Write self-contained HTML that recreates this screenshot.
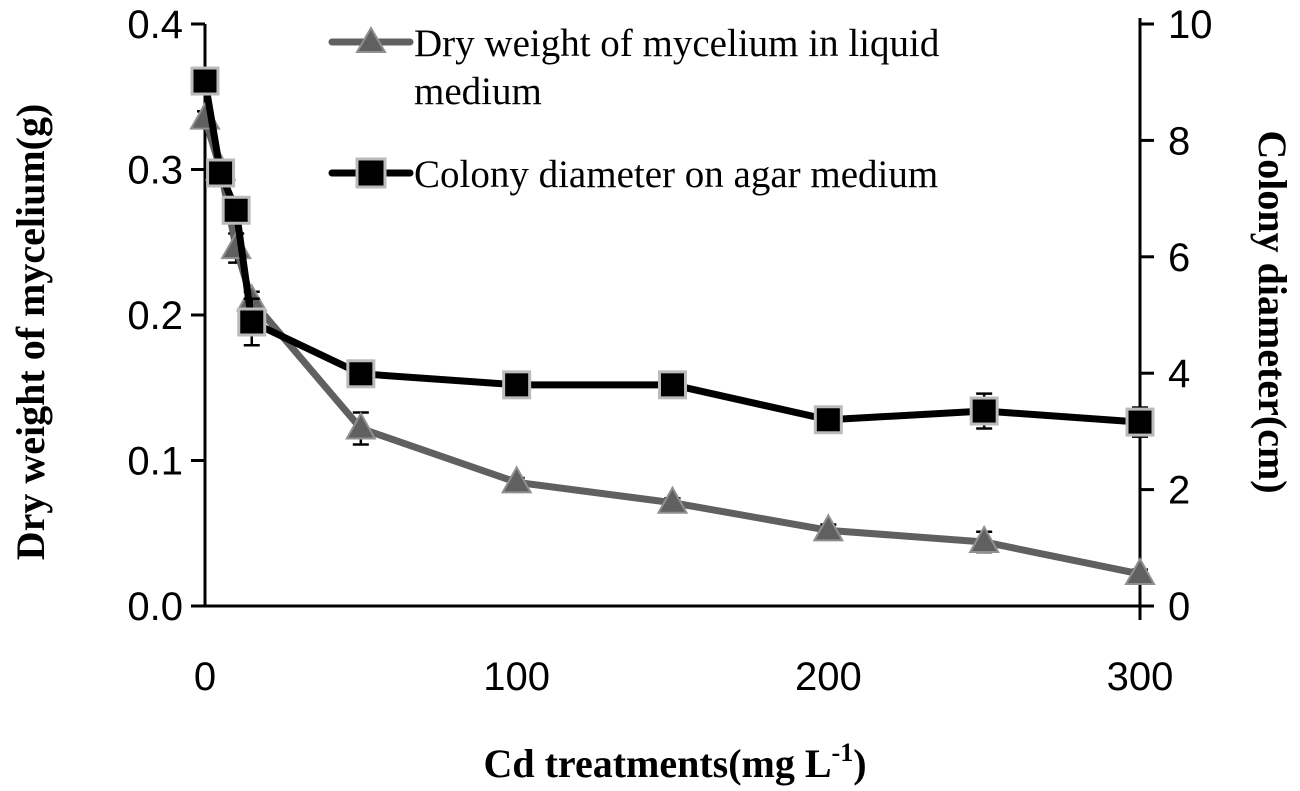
<!DOCTYPE html>
<html><head><meta charset="utf-8"><style>
body{margin:0;background:#fff}
svg{display:block}
</style></head><body>
<svg id="chart" width="1300" height="791" viewBox="0 0 1300 791">
<g id="axes"></g><g id="series"></g>
<g>
<g>
<line x1="332" y1="42" x2="410" y2="42" stroke="#606060" stroke-width="7" stroke-linecap="round"/>
<polygon points="371,28 385,52 357,52" fill="#606060" stroke="#909090" stroke-width="2"/>
<text x="414" y="56" font-family="Liberation Serif, serif" font-size="39" fill="#000">Dry weight of mycelium in liquid</text>
<text x="414" y="104" font-family="Liberation Serif, serif" font-size="39" fill="#000">medium</text>
</g>
<g>
<line x1="332" y1="173" x2="410" y2="173" stroke="#000" stroke-width="7" stroke-linecap="round"/>
<rect x="357" y="159" width="28" height="28" fill="#000" stroke="#bbb" stroke-width="3"/>
<text x="414" y="187" font-family="Liberation Serif, serif" font-size="39" fill="#000">Colony diameter on agar medium</text>
</g>
</g>
<text x="675" y="777" text-anchor="middle" font-family="Liberation Serif, serif" font-weight="bold" font-size="40">Cd treatments(mg  L<tspan dy="-16" font-size="26">-1</tspan><tspan dy="16">)</tspan></text>
<text transform="translate(44,332) rotate(-90)" text-anchor="middle" font-family="Liberation Serif, serif" font-weight="bold" font-size="40">Dry weight of mycelium(g)</text>
<text transform="translate(1259,312) rotate(90)" text-anchor="middle" font-family="Liberation Serif, serif" font-weight="bold" font-size="40">Colony diameter(cm)</text>
</svg>
<script>
const xValues=[0,5,10,15,50,100,150,200,250,300];
const dryWeight=[0.335,0.300,0.246,0.210,0.122,0.085,0.071,0.052,0.044,0.022];
const dryErr=[0.005,0.004,0.01,0.006,0.011,0.003,0.003,0.004,0.007,0.003];
const colony=[9.02,7.44,6.80,4.88,3.99,3.80,3.80,3.20,3.35,3.16];
const colonyErr=[0.2,0.15,0.2,0.4,0.1,0.1,0.1,0.2,0.3,0.25];
const xTicks=[0,100,200,300];
const leftTicks=["0.0","0.1","0.2","0.3","0.4"];
const rightTicks=["0","2","4","6","8","10"];
const NS="http://www.w3.org/2000/svg";
const X0=205,X1=1140,Y0=606,Y1=24;
const sx=v=>X0+(v/300)*(X1-X0);
const syL=v=>Y0-(v/0.4)*(Y0-Y1);
const syR=v=>Y0-(v/10)*(Y0-Y1);
function mk(tag,attrs,parent){const e=document.createElementNS(NS,tag);for(const k in attrs)e.setAttribute(k,attrs[k]);parent.appendChild(e);return e;}
const ax=document.getElementById('axes'),se=document.getElementById('series');
let e;
e=mk('line',{x1:X0,y1:Y1,x2:X0,y2:Y0,stroke:'#000','stroke-width':3},ax);


e=mk('line',{x1:X1,y1:Y1-6,x2:X1,y2:Y0+14,stroke:'#000','stroke-width':3},ax);


e=mk('line',{x1:X0,y1:Y0,x2:X1+14,y2:Y0,stroke:'#000','stroke-width':3},ax);


leftTicks.forEach(t=>{const y=syL(parseFloat(t));
mk('line',{x1:X0-14,y1:y,x2:X0,y2:y,stroke:'#000','stroke-width':3},ax);
e=mk('text',{x:X0-22,y:y+14,'text-anchor':'end','font-family':'Liberation Sans, sans-serif','font-size':40},ax);e.textContent=t;

});
rightTicks.forEach(t=>{const y=syR(parseFloat(t));
mk('line',{x1:X1,y1:y,x2:X1+14,y2:y,stroke:'#000','stroke-width':3},ax);
e=mk('text',{x:X1+28,y:y+14,'font-family':'Liberation Sans, sans-serif','font-size':40},ax);e.textContent=t;

});
xTicks.forEach(t=>{e=mk('text',{x:sx(t),y:Y0+84,'text-anchor':'middle','font-family':'Liberation Sans, sans-serif','font-size':40},ax);e.textContent=t;

});
function errs(vals,err,sy,col){vals.forEach((v,i)=>{const x=sx(xValues[i]),a=sy(v+err[i]),b=sy(v-err[i]);
mk('line',{x1:x,y1:a,x2:x,y2:b,stroke:col,'stroke-width':2.5},se);
mk('line',{x1:x-8,y1:a,x2:x+8,y2:a,stroke:col,'stroke-width':2.5},se);
mk('line',{x1:x-8,y1:b,x2:x+8,y2:b,stroke:col,'stroke-width':2.5},se);});}
errs(dryWeight,dryErr,syL,'#000');
e=mk('polyline',{points:dryWeight.map((v,i)=>sx(xValues[i])+','+syL(v)).join(' '),fill:'none',stroke:'#606060','stroke-width':7,'stroke-linejoin':'round'},se);


dryWeight.forEach((v,i)=>{const x=sx(xValues[i]),y=syL(v);
e=mk('polygon',{points:`${x},${y-15} ${x+14},${y+10} ${x-14},${y+10}`,fill:'#606060',stroke:'#909090','stroke-width':2},se);

});
errs(colony,colonyErr,syR,'#000');
e=mk('polyline',{points:colony.map((v,i)=>sx(xValues[i])+','+syR(v)).join(' '),fill:'none',stroke:'#000','stroke-width':7,'stroke-linejoin':'round'},se);


colony.forEach((v,i)=>{const x=sx(xValues[i]),y=syR(v);
e=mk('rect',{x:x-13,y:y-13,width:26,height:26,fill:'#000',stroke:'#bbb','stroke-width':3},se);

});
</script>
</body></html>
